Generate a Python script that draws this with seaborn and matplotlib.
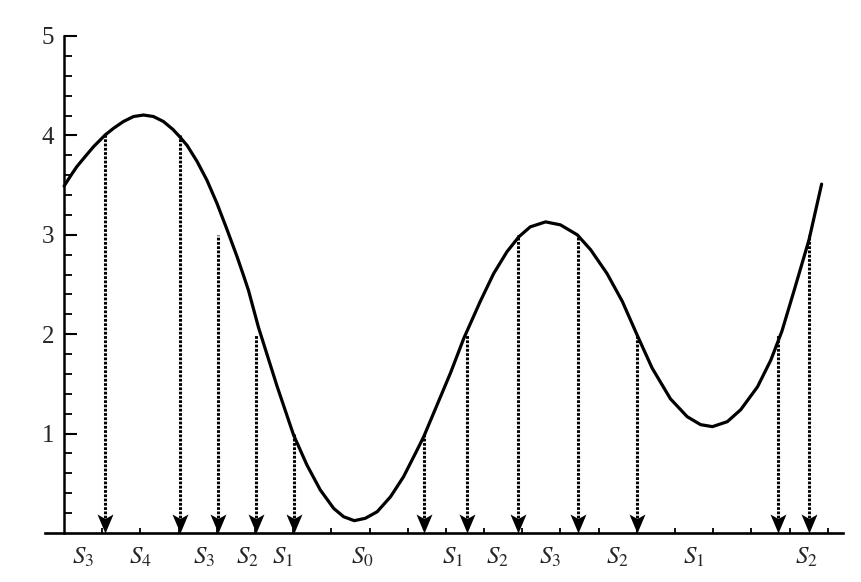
import numpy as np
import pandas as pd
import matplotlib
matplotlib.use("Agg")
import matplotlib.pyplot as plt
import seaborn as sns
from matplotlib.path import Path
from matplotlib.markers import MarkerStyle

# ---- data ----
curve_x = [0.0, 0.157, 0.332, 0.55, 0.77, 1.075, 1.29, 1.555, 1.82, 2.08, 2.34, 2.6,
           2.85, 3.02, 3.22, 3.48, 3.74, 4.0, 4.26, 4.53, 4.70, 4.83, 5.09, 5.575,
           6.01, 6.36, 6.71, 7.06, 7.32, 7.60, 7.89, 8.20, 8.55, 8.89, 9.2, 9.42,
           9.77, 10.12, 10.47, 10.9, 11.25, 11.6, 11.91, 12.21, 12.61, 13.0, 13.44,
           13.79, 14.22, 14.62, 15.01, 15.40, 15.88, 16.32, 16.67, 16.98, 17.37,
           17.72, 18.16, 18.51, 18.80, 19.12, 19.51, 19.84]
curve_y = [3.49, 3.585, 3.685, 3.786, 3.886, 4.004, 4.07, 4.14, 4.19, 4.205, 4.19, 4.14,
           4.06, 3.99, 3.90, 3.74, 3.55, 3.32, 3.06, 2.78, 2.59, 2.44, 2.07, 1.48,
           0.986, 0.684, 0.433, 0.248, 0.164, 0.124, 0.148, 0.214, 0.365, 0.566, 0.80, 0.97,
           1.29, 1.61, 1.96, 2.33, 2.61, 2.83, 2.98, 3.08, 3.13, 3.10, 3.0,
           2.85, 2.61, 2.33, 1.99, 1.66, 1.35, 1.17, 1.09, 1.07, 1.12,
           1.24, 1.47, 1.74, 2.03, 2.44, 2.95, 3.51]

drop_x = [1.075, 3.04, 4.04, 5.03, 6.01, 9.42, 10.54, 11.88, 13.46, 15.01, 18.70, 19.51]
drop_level = [4, 4, 3, 2, 1, 1, 2, 3, 3, 2, 2, 3]

label_x = [0.5, 2.0, 3.67, 4.8, 5.73, 7.82, 10.18, 11.34, 12.74, 14.49, 16.49, 19.44]
label_text = ["$S_3$", "$S_4$", "$S_3$", "$S_2$", "$S_1$", "$S_0$",
              "$S_1$", "$S_2$", "$S_3$", "$S_2$", "$S_1$", "$S_2$"]

y_ticks = [1, 2, 3, 4, 5]
x_ticks = list(range(1, 21))

# ---- figure ----
sns.set_style("white")
plt.rcParams["font.family"] = ["Liberation Serif", "DejaVu Serif"]
plt.rcParams["mathtext.fontset"] = "stix"

fig = plt.figure(figsize=(8.61, 5.82), dpi=100)
ax = fig.add_axes([45 / 861, 49 / 582, (843 - 45) / 861, (533 - 36) / 582])

curve = pd.DataFrame({"x": curve_x, "y": curve_y})
sns.lineplot(data=curve, x="x", y="y", sort=False, color="black",
             linewidth=2.3, ax=ax, estimator=None)
for ln in ax.get_lines():
    ln.set_solid_joinstyle("round")

# dotted drop lines
ax.vlines(drop_x, [0.15] * len(drop_x), drop_level, colors="black",
          linestyles=(0, (0.9, 0.5)), linewidth=2.2)

# arrow heads (tip at y = 0)
arrow_path = Path([(0, 0), (-0.42, 1.0), (0, 0.76), (0.42, 1.0), (0, 0)],
                  [Path.MOVETO, Path.LINETO, Path.LINETO, Path.LINETO, Path.CLOSEPOLY])
heads = pd.DataFrame({"x": drop_x, "y": [0.0] * len(drop_x)})
sns.scatterplot(data=heads, x="x", y="y", marker=MarkerStyle(arrow_path),
                s=27.4 ** 2, color="black", edgecolor="black", linewidth=0,
                ax=ax, zorder=5, clip_on=False)

ax.set_xlim(-0.5, 20.4)
ax.set_ylim(0, 5)

for side in ["top", "right"]:
    ax.spines[side].set_visible(False)
ax.spines["left"].set_position(("data", 0))
ax.spines["left"].set_bounds(0, 5)
ax.spines["left"].set_linewidth(1.8)
ax.spines["bottom"].set_linewidth(1.9)
ax.spines["left"].set_color("black")
ax.spines["bottom"].set_color("black")

ax.set_yticks(y_ticks)
ax.set_yticklabels([str(v) for v in y_ticks], fontsize=18)
ax.set_yticks(np.arange(0.2, 5.0, 0.2), minor=True)
ax.set_xticks(x_ticks)
ax.set_xticklabels([])
ax.tick_params(axis="y", which="major", direction="in", length=9.5, width=1.5,
               pad=7, left=True, color="black")
ax.tick_params(axis="y", which="minor", direction="in", length=5.6, width=1.3,
               left=True, color="black")
ax.tick_params(axis="x", which="major", direction="in", length=3.8, width=1.3,
               bottom=True, color="black")

for xv, t in zip(label_x, label_text):
    ax.text(xv, -0.245, t, ha="center", va="center", fontsize=18)

ax.set_xlabel("")
ax.set_ylabel("")
fig.savefig("out.png", dpi=100)
